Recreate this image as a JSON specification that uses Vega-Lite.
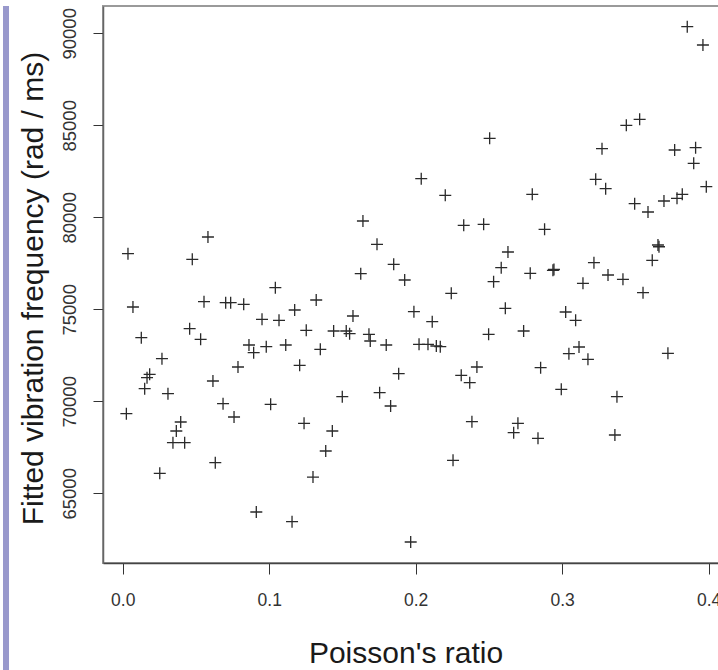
{
  "$schema": "https://vega.github.io/schema/vega-lite/v6.json",
  "padding": {"left": 0, "top": 5, "right": 0, "bottom": 0},
  "background": "white",
  "bounds": "flush",
  "spacing": 94,
  "config": {
    "font": "Liberation Sans",
    "axis": {"grid": false, "labelColor": "#333333", "titleColor": "#1a1a1a", "titleFontWeight": "normal", "labelFont": "Liberation Sans", "titleFont": "Liberation Sans"}
  },
  "datasets": {
    "pts": [
      {"nu": 0.0036, "omega": 78022}, {"nu": 0.0475, "omega": 77717}, {"nu": 0.0582, "omega": 78929},
      {"nu": 0.0070, "omega": 75125}, {"nu": 0.0555, "omega": 75413}, {"nu": 0.0703, "omega": 75359},
      {"nu": 0.0737, "omega": 75359}, {"nu": 0.0127, "omega": 73456}, {"nu": 0.0457, "omega": 73946},
      {"nu": 0.0532, "omega": 73370}, {"nu": 0.0268, "omega": 72315}, {"nu": 0.0184, "omega": 71467},
      {"nu": 0.0166, "omega": 71283}, {"nu": 0.0150, "omega": 70685}, {"nu": 0.0309, "omega": 70413},
      {"nu": 0.0616, "omega": 71103}, {"nu": 0.0787, "omega": 71864}, {"nu": 0.0025, "omega": 69326},
      {"nu": 0.0685, "omega": 69869}, {"nu": 0.0760, "omega": 69147}, {"nu": 0.0396, "omega": 68875},
      {"nu": 0.0366, "omega": 68386}, {"nu": 0.0343, "omega": 67750}, {"nu": 0.0423, "omega": 67750},
      {"nu": 0.0253, "omega": 66087}, {"nu": 0.0632, "omega": 66663}, {"nu": 0.1736, "omega": 78533},
      {"nu": 0.1850, "omega": 77446}, {"nu": 0.1625, "omega": 76935}, {"nu": 0.1925, "omega": 76592},
      {"nu": 0.2243, "omega": 75870}, {"nu": 0.1042, "omega": 76174}, {"nu": 0.0826, "omega": 75272},
      {"nu": 0.1321, "omega": 75505}, {"nu": 0.1174, "omega": 74962}, {"nu": 0.0951, "omega": 74456},
      {"nu": 0.1067, "omega": 74402}, {"nu": 0.1572, "omega": 74636}, {"nu": 0.1988, "omega": 74869},
      {"nu": 0.2113, "omega": 74326}, {"nu": 0.1253, "omega": 73859}, {"nu": 0.1440, "omega": 73820},
      {"nu": 0.1526, "omega": 73820}, {"nu": 0.1549, "omega": 73674}, {"nu": 0.1681, "omega": 73641},
      {"nu": 0.1690, "omega": 73277}, {"nu": 0.1799, "omega": 73060}, {"nu": 0.2023, "omega": 73098},
      {"nu": 0.2084, "omega": 73098}, {"nu": 0.2141, "omega": 73005}, {"nu": 0.2168, "omega": 72967},
      {"nu": 0.0862, "omega": 73060}, {"nu": 0.0894, "omega": 72641}, {"nu": 0.0980, "omega": 72967},
      {"nu": 0.1113, "omega": 73060}, {"nu": 0.1349, "omega": 72826}, {"nu": 0.1208, "omega": 71956},
      {"nu": 0.1884, "omega": 71500}, {"nu": 0.2311, "omega": 71413}, {"nu": 0.2369, "omega": 71011},
      {"nu": 0.2418, "omega": 71864}, {"nu": 0.1010, "omega": 69837}, {"nu": 0.1499, "omega": 70250},
      {"nu": 0.1754, "omega": 70467}, {"nu": 0.1829, "omega": 69744}, {"nu": 0.1238, "omega": 68804},
      {"nu": 0.1431, "omega": 68386}, {"nu": 0.2384, "omega": 68891}, {"nu": 0.1386, "omega": 67299},
      {"nu": 0.2255, "omega": 66793}, {"nu": 0.1299, "omega": 65884}, {"nu": 0.0912, "omega": 63984},
      {"nu": 0.1156, "omega": 63457}, {"nu": 0.1966, "omega": 62353}, {"nu": 0.2038, "omega": 82098},
      {"nu": 0.2202, "omega": 81196}, {"nu": 0.1640, "omega": 79799}, {"nu": 0.2328, "omega": 79565},
      {"nu": 0.2464, "omega": 79620}, {"nu": 0.2505, "omega": 84293}, {"nu": 0.3854, "omega": 90359},
      {"nu": 0.3961, "omega": 89364}, {"nu": 0.3438, "omega": 85000}, {"nu": 0.3529, "omega": 85326},
      {"nu": 0.3272, "omega": 83728}, {"nu": 0.3768, "omega": 83658}, {"nu": 0.3911, "omega": 83783},
      {"nu": 0.3898, "omega": 82935}, {"nu": 0.3229, "omega": 82065}, {"nu": 0.3297, "omega": 81554},
      {"nu": 0.3984, "omega": 81663}, {"nu": 0.2796, "omega": 81250}, {"nu": 0.3495, "omega": 80739},
      {"nu": 0.3586, "omega": 80288}, {"nu": 0.3695, "omega": 80886}, {"nu": 0.3784, "omega": 81033},
      {"nu": 0.3820, "omega": 81250}, {"nu": 0.2880, "omega": 79347}, {"nu": 0.3654, "omega": 78495},
      {"nu": 0.3661, "omega": 78400}, {"nu": 0.2630, "omega": 78114}, {"nu": 0.2584, "omega": 77261},
      {"nu": 0.2782, "omega": 76957}, {"nu": 0.2937, "omega": 77120}, {"nu": 0.2944, "omega": 77163},
      {"nu": 0.2532, "omega": 76500}, {"nu": 0.3217, "omega": 77533}, {"nu": 0.3615, "omega": 77663},
      {"nu": 0.3142, "omega": 76413}, {"nu": 0.3313, "omega": 76864}, {"nu": 0.3415, "omega": 76630},
      {"nu": 0.3552, "omega": 75902}, {"nu": 0.2612, "omega": 75054}, {"nu": 0.3024, "omega": 74853},
      {"nu": 0.3092, "omega": 74402}, {"nu": 0.2498, "omega": 73641}, {"nu": 0.2737, "omega": 73820},
      {"nu": 0.3115, "omega": 72951}, {"nu": 0.3046, "omega": 72587}, {"nu": 0.3176, "omega": 72282},
      {"nu": 0.3722, "omega": 72609}, {"nu": 0.2853, "omega": 71826}, {"nu": 0.2994, "omega": 70652},
      {"nu": 0.3374, "omega": 70250}, {"nu": 0.2698, "omega": 68804}, {"nu": 0.2669, "omega": 68293},
      {"nu": 0.2835, "omega": 67990}, {"nu": 0.3360, "omega": 68168}
    ]
  },
  "resolve": {"scale": {"x": "independent", "y": "independent"}},
  "hconcat": [
    {
      "width": 6,
      "height": 665,
      "view": {"fill": "#9999cc", "stroke": null},
      "data": {"name": "pts"},
      "mark": {"type": "point", "opacity": 0},
      "encoding": {
        "x": {"field": "nu", "type": "quantitative", "axis": null},
        "y": {"field": "omega", "type": "quantitative", "axis": null}
      }
    },
    {
      "width": 620,
      "height": 557,
      "view": {"stroke": "#9a9a9a", "strokeWidth": 2, "fill": "white"},
      "data": {"name": "pts"},
      "mark": {
        "type": "point",
        "shape": "M-1,0L1,0M0,-1L0,1",
        "size": 144,
        "filled": false,
        "stroke": "#2a2a2a",
        "strokeWidth": 1.3,
        "opacity": 1
      },
      "encoding": {
        "x": {
          "field": "nu",
          "type": "quantitative",
          "scale": {"domain": [-0.01345, 0.4098], "nice": false, "zero": false},
          "axis": {
            "title": "Poisson's ratio",
            "values": [0, 0.1, 0.2, 0.3, 0.4],
            "format": ".1f",
            "tickSize": 11,
            "tickColor": "#333333",
            "domainColor": "#444444",
            "domainWidth": 1.5,
            "labelFontSize": 17.5,
            "labelPadding": 17,
            "titleFontSize": 30,
            "titleX": 302.5,
            "titleY": 99,
            "titleBaseline": "alphabetic",
            "titleAlign": "center"
          }
        },
        "y": {
          "field": "omega",
          "type": "quantitative",
          "scale": {"domain": [61212, 91484], "nice": false, "zero": false},
          "axis": {
            "title": "Fitted vibration frequency (rad / ms)",
            "values": [65000, 70000, 75000, 80000, 85000, 90000],
            "format": "d",
            "tickSize": 10,
            "tickColor": "#333333",
            "domainColor": "#666666",
            "domainWidth": 1.5,
            "labelFontSize": 18.5,
            "labelAngle": 270,
            "labelAlign": "center",
            "labelBaseline": "alphabetic",
            "labelPadding": 18,
            "titleFontSize": 30,
            "titleAngle": 270,
            "titleX": -61,
            "titleY": 282,
            "titleBaseline": "alphabetic",
            "titleAlign": "center"
          }
        }
      }
    }
  ]
}
